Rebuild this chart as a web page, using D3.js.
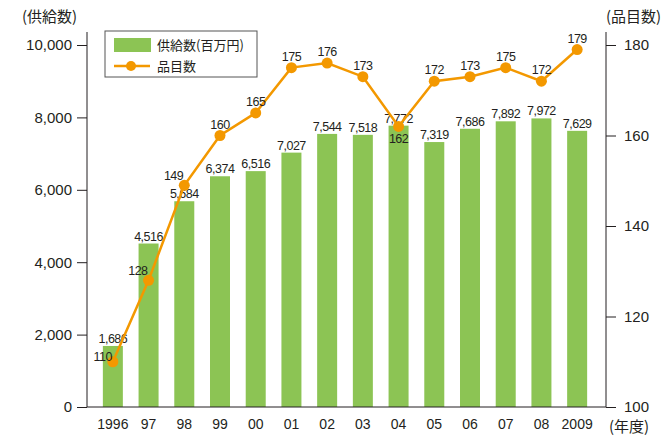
<!DOCTYPE html>
<html>
<head>
<meta charset="utf-8">
<script src="https://cdn.jsdelivr.net/npm/d3@7"></script>
<style>
  body { margin: 0; background: #fff; }
  text { font-family: "Liberation Sans", Arial, "Noto Sans CJK JP", sans-serif; fill: #231f20; }
  .jp { font-family: "Noto Sans CJK JP", sans-serif; }
</style>
</head>
<body>
<div id="container"></div>
<script>
// data
var years = ["1996", "97", "98", "99", "00", "01", "02", "03", "04", "05", "06", "07", "08", "2009"];
var supply = [1686, 4516, 5684, 6374, 6516, 7027, 7544, 7518, 7772, 7319, 7686, 7892, 7972, 7629];
var items = [110, 128, 149, 160, 165, 175, 176, 173, 162, 172, 173, 175, 172, 179];
var leftTicks = [0, 2000, 4000, 6000, 8000, 10000];
var rightTicks = [100, 120, 140, 160, 180];

var width = 668, height = 436;
var green = "#8cc454", orange = "#f39800", ink = "#231f20";

var svg = d3.select("#container")
  .append("svg")
    .attr("width", width)
    .attr("height", height)
    .attr("id", "chart");

var x = d3.scaleBand()
  .domain(years)
  .range([95, 595])
  .paddingInner(0.44)
  .paddingOuter(0.22);

var y = d3.scaleLinear().domain([0, 10000]).range([407, 45]);
var y2 = d3.scaleLinear().domain([100, 180]).range([407, 45]);

// bars
svg.append("g").selectAll("rect")
  .data(supply)
  .join("rect")
    .attr("x", function(d, i) { return x(years[i]); })
    .attr("y", function(d) { return y(d); })
    .attr("width", x.bandwidth())
    .attr("height", function(d) { return y(0) - y(d); })
    .attr("fill", green);

// left axis
var gl = svg.append("g")
  .attr("transform", "translate(87,0)")
  .call(d3.axisLeft(y).tickValues(leftTicks).tickSize(10).tickSizeOuter(0).tickPadding(5)
    .tickFormat(d3.format(",")));
gl.select(".domain").remove();
gl.selectAll("line").attr("stroke", ink);
gl.selectAll("text").style("font-size", "15px").attr("fill", ink);
svg.append("line").attr("x1", 87).attr("x2", 87).attr("y1", 32).attr("y2", 407).attr("stroke", ink);

// right axis
var gr = svg.append("g")
  .attr("transform", "translate(606,0)")
  .call(d3.axisRight(y2).tickValues(rightTicks).tickSize(10).tickSizeOuter(0).tickPadding(8));
gr.select(".domain").remove();
gr.selectAll("line").attr("stroke", ink);
gr.selectAll("text").style("font-size", "15px").attr("fill", ink);
svg.append("line").attr("x1", 606).attr("x2", 606).attr("y1", 32).attr("y2", 407).attr("stroke", ink);

// bottom
svg.append("line").attr("x1", 87).attr("x2", 606).attr("y1", 407).attr("y2", 407).attr("stroke", ink);
var gb = svg.append("g")
  .attr("transform", "translate(0,407)")
  .call(d3.axisBottom(x).tickSize(0).tickPadding(12));
gb.select(".domain").remove();
gb.selectAll("text").style("font-size", "14px").attr("fill", ink);

// bar labels
svg.append("g").selectAll("text")
  .data(supply)
  .join("text")
    .attr("x", function(d, i) { return x(years[i]) + x.bandwidth() / 2; })
    .attr("y", function(d) { return y(d) - 3; })
    .attr("text-anchor", "middle")
    .style("font-size", "12.5px")
    .style("letter-spacing", "-0.5px")
    .text(function(d) { return d3.format(",")(d); });

// line
var cx = function(d, i) { return x(years[i]) + x.bandwidth() / 2; };
svg.append("path")
  .datum(items)
  .attr("fill", "none")
  .attr("stroke", orange)
  .attr("stroke-width", 2.5)
  .attr("d", d3.line().x(cx).y(function(d) { return y2(d); }));

svg.append("g").selectAll("circle")
  .data(items)
  .join("circle")
    .attr("cx", cx)
    .attr("cy", function(d) { return y2(d); })
    .attr("r", 5.5)
    .attr("fill", orange);

// line labels: first three sit up-left of the point, 162 below, rest above
svg.append("g").selectAll("text")
  .data(items)
  .join("text")
    .attr("x", function(d, i) { return i < 3 ? cx(d, i) - 1 : cx(d, i); })
    .attr("y", function(d, i) {
      if (i === 0) return y2(d) - 1;
      if (i < 3) return y2(d) - 5;
      if (i === 8) return y2(d) + 17;
      return y2(d) - 7;
    })
    .attr("text-anchor", function(d, i) { return i < 3 ? "end" : "middle"; })
    .style("font-size", "12.5px")
    .style("letter-spacing", "-0.5px")
    .text(function(d) { return d; });

// axis titles
svg.append("text").attr("class", "jp").attr("x", 22).attr("y", 22)
  .style("font-size", "15px").text("(供給数)");
svg.append("text").attr("class", "jp").attr("x", 606).attr("y", 22)
  .style("font-size", "15px").text("(品目数)");
svg.append("text").attr("class", "jp").attr("x", 609).attr("y", 432)
  .style("font-size", "15px").text("(年度)");

// legend
var lg = svg.append("g");
lg.append("rect").attr("x", 105).attr("y", 31).attr("width", 152).attr("height", 46)
  .attr("fill", "#fff").attr("stroke", "#555").attr("stroke-width", 1);
lg.append("rect").attr("x", 114).attr("y", 38).attr("width", 37).attr("height", 14).attr("fill", green);
lg.append("line").attr("x1", 114).attr("x2", 150).attr("y1", 66).attr("y2", 66)
  .attr("stroke", orange).attr("stroke-width", 2.5);
lg.append("circle").attr("cx", 131).attr("cy", 66).attr("r", 5).attr("fill", orange);
lg.append("text").attr("class", "jp").attr("x", 157).attr("y", 50).style("font-size", "13px").text("供給数(百万円)");
lg.append("text").attr("class", "jp").attr("x", 157).attr("y", 71).style("font-size", "13px").text("品目数");
</script>
</body>
</html>
